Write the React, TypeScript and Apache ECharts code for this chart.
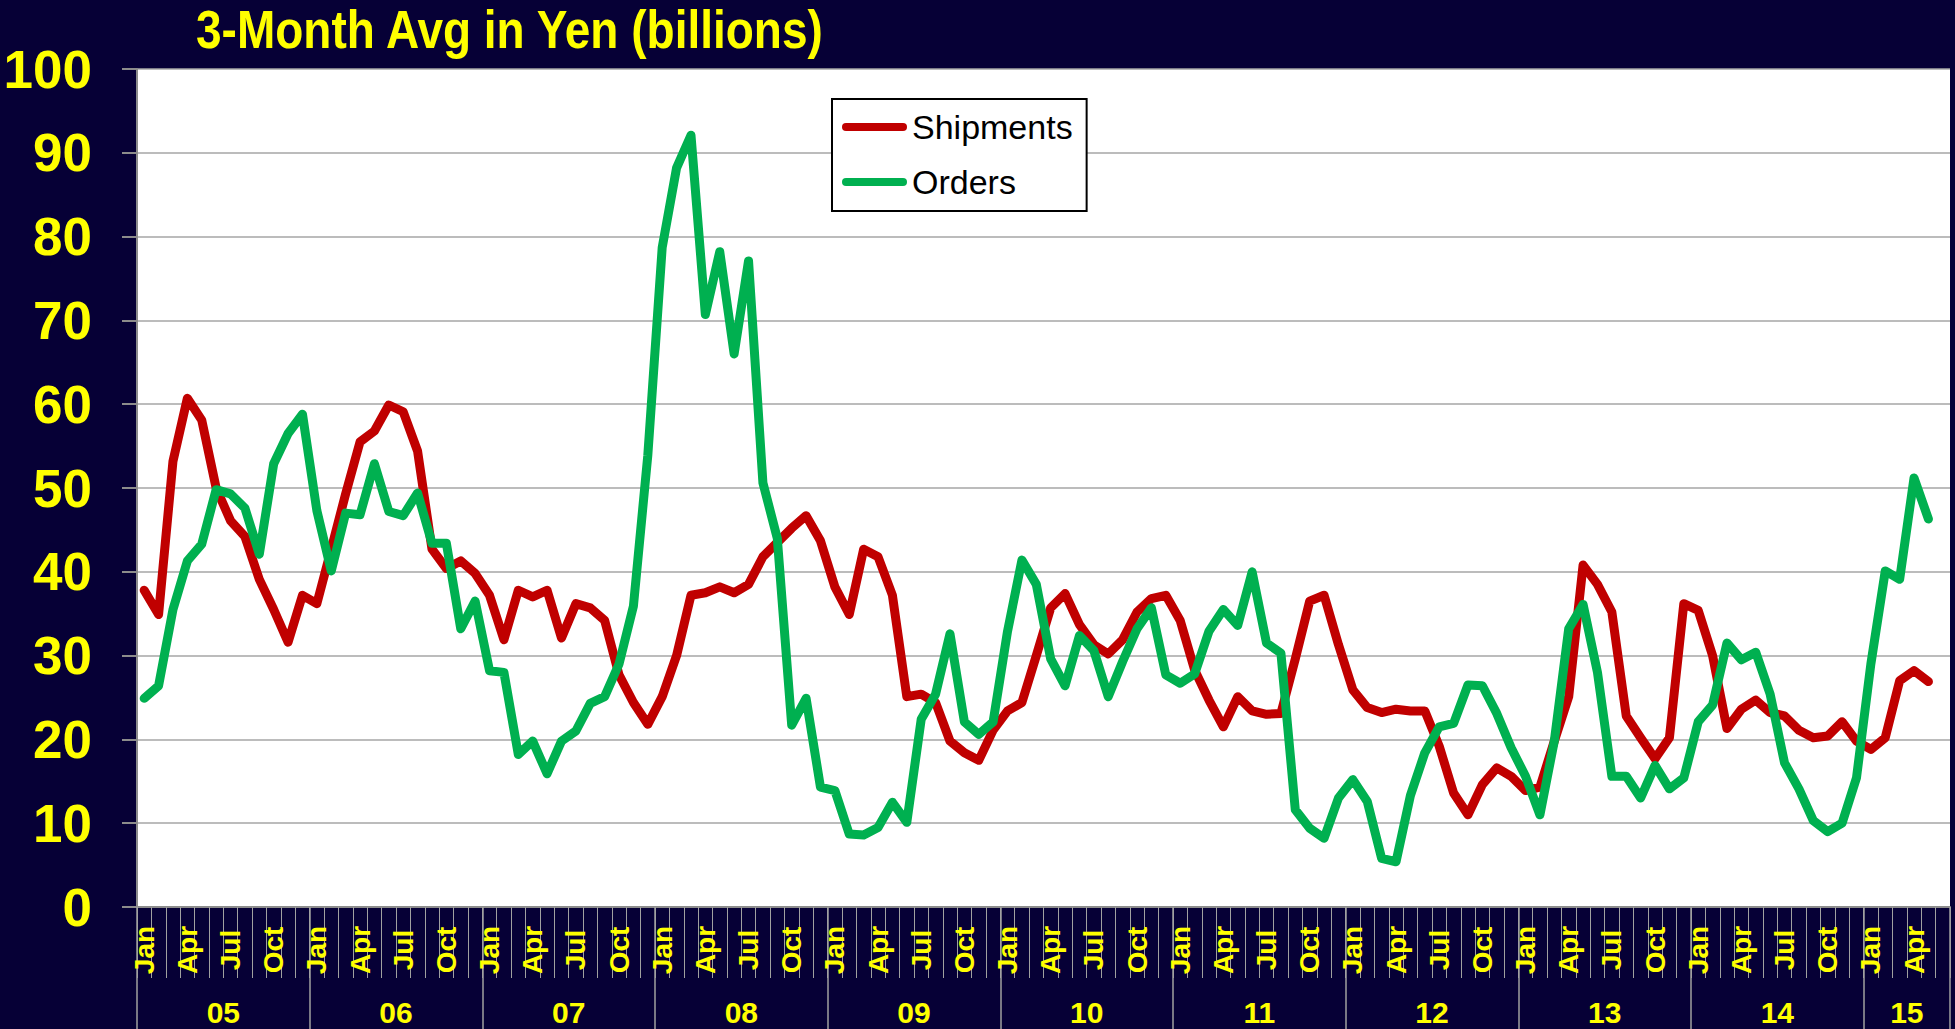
import React, { useEffect, useRef } from "react";
import * as echarts from "echarts";

const FONT = '"Liberation Sans", Arial, sans-serif';
const BG = "#060036";
const YELLOW = "#FFFF00";

const MONTHS = ["Jan", "Feb", "Mar", "Apr", "May", "Jun", "Jul", "Aug", "Sep", "Oct", "Nov", "Dec"];
const YEARS = ["05", "06", "07", "08", "09", "10", "11", "12", "13", "14", "15"];
const MONTHS_IN_LAST_YEAR = 6; // axis runs Jan 05 .. Jun 15

const TITLE = "3-Month Avg in Yen (billions)";
const SERIES_NAMES = ["Shipments", "Orders"];
const SERIES_COLORS = ["#C00000", "#00B050"];

// Jan 2005 .. May 2015 (125 months)
const shipments = [
  37.8, 34.9, 53.2, 60.7, 58.1, 50.0, 46.1, 44.2, 39.1, 35.5, 31.6, 37.2,
  36.2, 42.7, 49.3, 55.5, 56.8, 59.9, 59.1, 54.4, 42.7, 40.4, 41.3, 39.8,
  37.2, 31.9, 37.8, 37.0, 37.8, 32.1, 36.2, 35.7, 34.2, 27.7, 24.4, 21.8,
  25.1, 30.0, 37.2, 37.5, 38.2, 37.5, 38.5, 41.8, 43.5, 45.2, 46.7, 43.7,
  38.2, 34.9, 42.7, 41.8, 37.2, 25.1, 25.4, 24.4, 19.8, 18.4, 17.5, 21.1,
  23.4, 24.4, 30.0, 35.7, 37.4, 33.7, 31.3, 30.2, 31.9, 35.2, 36.8, 37.2,
  34.2, 28.3, 24.7, 21.5, 25.1, 23.4, 23.0, 23.1, 29.6, 36.5, 37.2, 31.3,
  25.9, 23.8, 23.2, 23.6, 23.4, 23.4, 19.2, 13.6, 11.0, 14.6, 16.6, 15.6,
  13.9, 14.3, 19.8, 25.1, 40.8, 38.5, 35.2, 22.8, 20.2, 17.7, 20.2, 36.2,
  35.4, 30.0, 21.3, 23.6, 24.7, 23.2, 22.8, 21.1, 20.2, 20.4, 22.1, 19.8,
  18.8, 20.2, 27.0, 28.2, 26.9,
];

const orders = [
  24.9, 26.4, 35.5, 41.3, 43.3, 49.8, 49.3, 47.6, 42.1, 52.9, 56.5, 58.8,
  47.3, 40.1, 47.0, 46.8, 52.9, 47.2, 46.7, 49.4, 43.4, 43.4, 33.2, 36.5,
  28.2, 28.0, 18.2, 19.8, 15.9, 19.8, 21.0, 24.3, 25.1, 29.0, 35.9, 53.9,
  78.7, 88.2, 92.1, 70.7, 78.2, 66.0, 77.1, 50.6, 44.0, 21.7, 24.9, 14.3,
  13.9, 8.7, 8.6, 9.5, 12.5, 10.1, 22.4, 25.4, 32.6, 22.1, 20.6, 22.1,
  32.9, 41.4, 38.5, 29.6, 26.4, 32.4, 30.6, 25.1, 29.3, 33.2, 35.7, 27.7,
  26.7, 27.8, 32.9, 35.5, 33.6, 40.0, 31.5, 30.3, 11.6, 9.4, 8.2, 13.0,
  15.2, 12.6, 5.8, 5.4, 13.3, 18.4, 21.5, 21.9, 26.5, 26.4, 23.1, 19.0,
  15.6, 11.0, 19.8, 33.2, 36.1, 28.0, 15.6, 15.6, 13.0, 16.9, 14.1, 15.4,
  22.1, 24.1, 31.5, 29.5, 30.4, 25.4, 17.2, 14.1, 10.3, 9.0, 10.0, 15.4,
  29.0, 40.1, 39.1, 51.2, 46.3,
];

const Y_MIN = 0;
const Y_MAX = 100;
const Y_STEP = 10;

function buildCategories(): string[] {
  const out: string[] = [];
  YEARS.forEach((y, yi) => {
    const n = yi === YEARS.length - 1 ? MONTHS_IN_LAST_YEAR : 12;
    for (let m = 0; m < n; m++) out.push(MONTHS[m] + " " + y);
  });
  return out;
}

export default function App() {
  const ref = useRef<HTMLDivElement>(null);

  useEffect(() => {
    document.body.style.margin = "0";
    document.body.style.background = BG;
    if (!ref.current) return;
    const chart = echarts.init(ref.current, null, { renderer: "svg" });
    const categories = buildCategories();
    const total = categories.length;

    // year label positions (centre of each year's span, in month units)
    const yearCentre: Record<number, string> = {};
    YEARS.forEach((y, yi) => {
      const start = yi * 12;
      const n = Math.min(12, total - start);
      yearCentre[start + n / 2] = y;
    });

    const axisGray = "#8C8C8C";
    const tickGray = "#A0A0A0";

    const option: any = {
      animation: false,
      backgroundColor: BG,
      graphic: [
        {
          type: "text",
          x: 196,
          y: 30,
          scaleY: 1.15,
          style: {
            text: TITLE,
            fill: YELLOW,
            font: 'bold 46px "Liberation Sans", Arial, sans-serif',
            align: "left",
            verticalAlign: "middle",
          },
        },
      ],
      legend: {
        data: SERIES_NAMES,
        orient: "vertical",
        left: 832,
        top: 99,
        itemWidth: 65,
        itemHeight: 8,
        itemGap: 21,
        padding: [11, 14, 12, 10],
        backgroundColor: "#FFFFFF",
        borderColor: "#000000",
        borderWidth: 2,
        borderRadius: 0,
        selectedMode: false,
        icon: "path://M4,0 L61,0 A4,4 0 0 1 61,8 L4,8 A4,4 0 0 1 4,0 Z",
        textStyle: { color: "#000000", fontSize: 34, fontFamily: FONT, lineHeight: 34 },
      },
      grid: {
        left: 137,
        right: 5,
        top: 69,
        bottom: 122,
        show: true,
        backgroundColor: "#FFFFFF",
        borderWidth: 0,
        containLabel: false,
        outerBoundsMode: "none",
      },
      xAxis: [
        {
          type: "category",
          data: categories,
          boundaryGap: true,
          position: "bottom",
          axisLine: { show: true, lineStyle: { color: axisGray, width: 2 } },
          axisTick: { show: true, interval: 0, length: 71, lineStyle: { color: tickGray, width: 1 } },
          axisLabel: {
            interval: (i: number) => i % 3 === 0,
            formatter: (v: string) => v.split(" ")[0],
            rotate: 90,
            align: "center",
            verticalAlign: "middle",
            margin: 43,
            color: YELLOW,
            fontSize: 28,
            fontWeight: "bold",
            fontFamily: FONT,
          },
          splitLine: { show: false },
        },
        {
          type: "category",
          data: categories,
          boundaryGap: true,
          position: "bottom",
          axisLine: { show: false },
          axisTick: {
            show: true,
            interval: (i: number) => i % 12 === 0,
            length: 125,
            lineStyle: { color: tickGray, width: 1.5 },
          },
          axisLabel: { show: false },
          splitLine: { show: false },
        },
        {
          type: "value",
          min: 0,
          max: total,
          interval: 3,
          position: "bottom",
          axisLine: { show: false },
          axisTick: { show: false },
          splitLine: { show: false },
          axisLabel: {
            formatter: (v: number) => yearCentre[v] || "",
            margin: 105,
            verticalAlign: "middle",
            color: YELLOW,
            fontSize: 30,
            fontWeight: "bold",
            fontFamily: FONT,
          },
        },
      ],
      yAxis: {
        type: "value",
        min: Y_MIN,
        max: Y_MAX,
        interval: Y_STEP,
        axisLine: { show: true, lineStyle: { color: axisGray, width: 2 } },
        axisTick: { show: true, length: 15, lineStyle: { color: axisGray, width: 2 } },
        splitLine: { show: true, lineStyle: { color: "#A6A6A6", width: 1.5 } },
        axisLabel: { color: YELLOW, fontSize: 53, fontWeight: "bold", fontFamily: FONT, margin: 45 },
      },
      series: [
        {
          name: SERIES_NAMES[0],
          type: "line",
          xAxisIndex: 0,
          data: shipments,
          showSymbol: false,
          symbol: "none",
          itemStyle: { color: SERIES_COLORS[0] },
          lineStyle: { color: SERIES_COLORS[0], width: 9, cap: "round", join: "round" },
        },
        {
          name: SERIES_NAMES[1],
          type: "line",
          xAxisIndex: 0,
          data: orders,
          showSymbol: false,
          symbol: "none",
          itemStyle: { color: SERIES_COLORS[1] },
          lineStyle: { color: SERIES_COLORS[1], width: 9, cap: "round", join: "round" },
        },
      ],
    };

    chart.setOption(option);
    return () => chart.dispose();
  }, []);

  return (
    <div
      ref={ref}
      style={{ position: "fixed", left: 0, top: 0, width: 1955, height: 1029 }}
    />
  );
}
